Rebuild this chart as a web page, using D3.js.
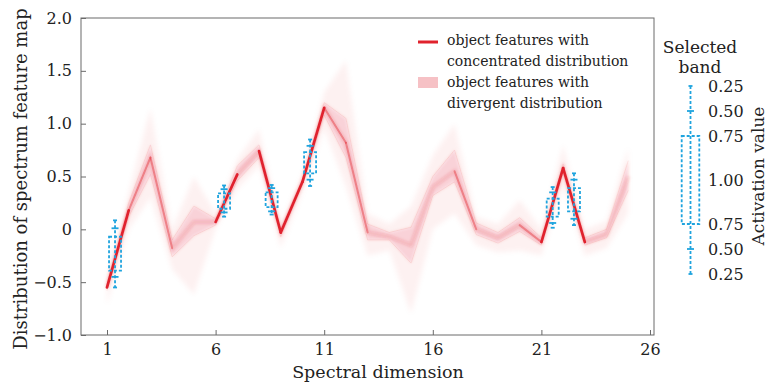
<!DOCTYPE html>
<html><head><meta charset="utf-8">
<script src="https://cdn.jsdelivr.net/npm/d3@7"></script>
<style>
body{margin:0;background:#fff}
svg{display:block}
text{font-family:"DejaVu Serif",serif;fill:#222}
</style>
</head><body><svg id="c" width="771" height="383"></svg>
<script>
// ---------------- data ----------------
const bands = [1,2,3,4,5,6,7,8,9,10,11,12,13,14,15,16,17,18,19,20,21,22,23,24,25];
const centerValues = [-0.55,0.18,0.68,-0.18,0.07,0.07,0.52,0.74,-0.03,0.45,1.15,0.82,-0.03,-0.07,-0.15,0.40,0.55,0.00,-0.08,0.04,-0.12,0.58,-0.12,-0.05,0.50];
const innerLow     = [-0.58,0.12,0.52,-0.26,-0.06,0.04,0.46,0.68,-0.07,0.42,1.08,0.68,-0.10,-0.10,-0.32,0.32,0.45,-0.05,-0.13,-0.02,-0.15,0.53,-0.15,-0.08,0.37];
const innerHigh    = [-0.50,0.25,0.80,-0.10,0.22,0.10,0.60,0.80,0.01,0.48,1.20,1.05,0.05,-0.03,0.02,0.50,0.75,0.06,-0.03,0.11,-0.08,0.62,-0.08,0.00,0.65];
const outerLow     = [-0.72,0.00,0.30,-0.38,-0.62,0.00,0.38,0.60,-0.18,0.35,0.95,0.40,-0.25,-0.20,-0.80,0.00,0.15,-0.15,-0.22,-0.20,-0.25,0.40,-0.25,-0.18,0.15];
const outerHigh    = [-0.45,0.35,1.15,0.00,0.50,0.15,0.66,0.95,0.05,0.52,1.30,1.60,0.15,0.05,0.22,0.70,1.00,0.12,0.05,0.28,0.00,0.80,0.00,0.08,0.78];
const concentratedSegments = [[1,2],[6,7],[8,9],[9,10],[10,11],[21,22],[22,23]];
const semiConcentratedSegments = [[2,3],[3,4],[11,12],[12,13],[17,18],[20,21]];

const xTicks = [1,6,11,16,21,26];
const yTicks = [2,1.5,1,0.5,0,-0.5,-1];
const yTickLabels = ["2.0","1.5","1.0","0.5","0","\u22120.5","\u22121.0"];

// selected-band activation glyphs
const glyphBands     = [1.37,6.39,8.58,10.35,21.52,22.50];
const glyphWhiskerTop= [0.085,0.415,0.42,0.85,0.40,0.53];
const glyphPlusTop   = [0.01,0.38,0.39,0.79,0.35,0.47];
const glyphBoxTop    = [-0.07,0.34,0.35,0.73,0.29,0.39];
const glyphBoxBottom = [-0.39,0.195,0.21,0.53,0.12,0.17];
const glyphPlusBottom= [-0.45,0.16,0.17,0.47,0.06,0.10];
const glyphWhiskerBottom=[-0.55,0.12,0.14,0.41,0.015,0.04];

const activationLabels = ["0.25","0.50","0.75","1.00","0.75","0.50","0.25"];
const activationOffsets = [-0.75,-0.5,-0.25,0,0.25,0.5,0.75];

// ---------------- layout ----------------
const svg = d3.select("#c");
const frame = {l:81, r:654, t:18, b:335};
const x = d3.scaleLinear().domain([1,26]).range([107,650]);
const y = d3.scaleLinear().domain([-1,2]).range([335,18]);
const RED = "#e0222d";
const BLUE = "#1fa4de";
const AX = "#6a6a6a";

const defs = svg.append("defs");
defs.append("clipPath").attr("id","clip").append("rect")
  .attr("x",frame.l).attr("y",frame.t).attr("width",frame.r-frame.l).attr("height",frame.b-frame.t);
defs.append("filter").attr("id","blur").attr("x","-10%").attr("y","-10%").attr("width","120%").attr("height","120%")
  .append("feGaussianBlur").attr("stdDeviation",2.6);
defs.append("filter").attr("id","blur2").attr("x","-10%").attr("y","-10%").attr("width","120%").attr("height","120%")
  .append("feGaussianBlur").attr("stdDeviation",1.4);
defs.append("filter").attr("id","soft").append("feGaussianBlur").attr("stdDeviation",0.5);

const plot = svg.append("g").attr("clip-path","url(#clip)");
const idx = bands.map((b,i)=>i);

const areaOuter = d3.area().x(i=>x(bands[i])).y0(i=>y(outerLow[i])).y1(i=>y(outerHigh[i]));
const areaInner = d3.area().x(i=>x(bands[i])).y0(i=>y(innerLow[i])).y1(i=>y(innerHigh[i]));
plot.append("path").datum(idx).attr("d",areaOuter).attr("fill",RED).attr("fill-opacity",0.055).attr("filter","url(#blur)");
plot.append("path").datum(idx).attr("d",areaInner).attr("fill",RED).attr("fill-opacity",0.13).attr("filter","url(#blur2)");

const lineOf = arr => d3.line().x(i=>x(bands[i])).y(i=>y(arr[i]));
const thinG = plot.append("g").attr("fill","none").attr("stroke",RED).attr("filter","url(#soft)");
[[innerLow,0.08],[innerHigh,0.08]].forEach(([arr,op])=>{
  thinG.append("path").datum(idx).attr("d",lineOf(arr)).attr("stroke-opacity",op).attr("stroke-width",1);
});
// dense core of the distribution
plot.append("path").datum(idx).attr("d",lineOf(centerValues)).attr("fill","none").attr("stroke",RED)
  .attr("stroke-opacity",0.18).attr("stroke-width",3.5).attr("filter","url(#blur2)");

const segOf = ([a,b]) => [bands.indexOf(a), bands.indexOf(b)];
const semiG = plot.append("g").attr("filter","url(#soft)");
semiConcentratedSegments.forEach(s=>{
  semiG.append("path").datum(segOf(s)).attr("d",lineOf(centerValues))
    .attr("fill","none").attr("stroke",RED).attr("stroke-opacity",0.4).attr("stroke-width",2).attr("stroke-linecap","round");
});
const concG = plot.append("g").attr("filter","url(#soft)");
concentratedSegments.forEach(s=>{
  concG.append("path").datum(segOf(s)).attr("d",lineOf(centerValues))
    .attr("fill","none").attr("stroke",RED).attr("stroke-width",2.7).attr("stroke-linecap","round");
});

// glyphs
function drawGlyph(g, cx, yTopW, yTopP, yBoxT, yBoxB, yBotP, yBotW, halfW){
  const st = s => s.attr("stroke",BLUE).attr("stroke-width",1.8).attr("fill","none");
  st(g.append("line").attr("x1",cx).attr("x2",cx).attr("y1",yTopW).attr("y2",yBotW)).attr("stroke-dasharray","3,2");
  st(g.append("rect").attr("x",cx-halfW).attr("y",yBoxT).attr("width",2*halfW).attr("height",yBoxB-yBoxT)).attr("stroke-dasharray","3,2");
  [yTopW,yBotW].forEach(v=>st(g.append("line").attr("x1",cx-2).attr("x2",cx+2).attr("y1",v).attr("y2",v)));
  [yTopP,yBotP].forEach(v=>st(g.append("line").attr("x1",cx-3.5).attr("x2",cx+3.5).attr("y1",v).attr("y2",v)));
}
const glyphG = svg.append("g");
glyphBands.forEach((b,i)=>{
  drawGlyph(glyphG.append("g"), x(b), y(glyphWhiskerTop[i]), y(glyphPlusTop[i]), y(glyphBoxTop[i]),
    y(glyphBoxBottom[i]), y(glyphPlusBottom[i]), y(glyphWhiskerBottom[i]), 6);
});

// frame & axes
svg.append("rect").attr("x",frame.l).attr("y",frame.t).attr("width",frame.r-frame.l).attr("height",frame.b-frame.t)
  .attr("fill","none").attr("stroke",AX).attr("stroke-width",1);
const xAxis = d3.axisBottom(x).tickValues(xTicks).tickSizeInner(-5).tickSizeOuter(0).tickPadding(9).tickFormat(d3.format("d"));
const gx = svg.append("g").attr("transform",`translate(0,${frame.b})`).call(xAxis);
gx.select(".domain").remove();
gx.selectAll(".tick line").attr("stroke",AX);
gx.selectAll(".tick text").attr("font-size",16).attr("fill","#222").attr("font-family","DejaVu Serif");

const yAxis = d3.axisLeft(y).tickValues(yTicks).tickSizeInner(-5).tickSizeOuter(0).tickPadding(9)
  .tickFormat((d,i)=>yTickLabels[i]);
const gy = svg.append("g").attr("transform",`translate(${frame.l},0)`).call(yAxis);
gy.select(".domain").remove();
gy.selectAll(".tick line").attr("stroke",AX);
gy.selectAll(".tick text").attr("font-size",16).attr("fill","#222").attr("font-family","DejaVu Serif");

svg.append("text").attr("x",378).attr("y",378).attr("text-anchor","middle").attr("font-size",17.5).text("Spectral dimension");
svg.append("text").attr("transform","translate(26.5,179) rotate(-90)").attr("text-anchor","middle").attr("font-size",18)
  .text("Distribution of spectrum feature map");

// legend (inside)
svg.append("line").attr("x1",418).attr("x2",438).attr("y1",42).attr("y2",42).attr("stroke",RED).attr("stroke-width",3);
svg.append("rect").attr("x",418).attr("y",77).attr("width",20).attr("height",11).attr("fill",RED).attr("fill-opacity",0.28).attr("filter","url(#soft)");
[["object features with",45],["concentrated distribution",66],["object features with",87],["divergent distribution",108]]
  .forEach(([t,yy])=>svg.append("text").attr("x",447).attr("y",yy).attr("font-size",14).text(t));

// activation legend (right)
svg.append("text").attr("x",700).attr("y",53).attr("text-anchor","middle").attr("font-size",17).text("Selected");
svg.append("text").attr("x",700).attr("y",73).attr("text-anchor","middle").attr("font-size",17).text("band");
const ya = d3.scaleLinear().domain([-0.75,-0.25,0.25,0.75]).range([86,136,224,274]);
drawGlyph(svg.append("g"), 690.5, ya(-0.75), ya(-0.5), ya(-0.25), ya(0.25), ya(0.5), ya(0.75), 8.8);
activationLabels.forEach((t,i)=>{
  svg.append("text").attr("x",708).attr("y",ya(activationOffsets[i])).attr("dy","0.35em").attr("font-size",16).text(t);
});
svg.append("text").attr("transform","translate(764,176) rotate(-90)").attr("text-anchor","middle").attr("font-size",17)
  .text("Activation value");
</script></body></html>
